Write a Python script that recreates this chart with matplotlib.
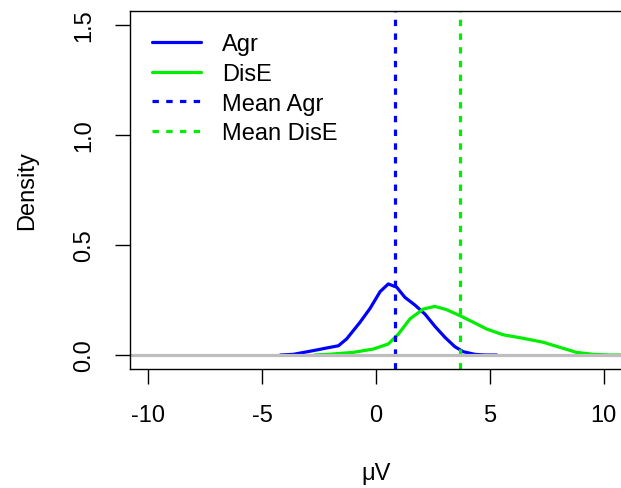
import matplotlib
matplotlib.use("Agg")
import matplotlib.pyplot as plt

plt.rcParams["font.family"] = ["Liberation Sans", "DejaVu Sans"]

# density estimates
agr_x = [-4.2, -3.63, -2.75, -2.16, -1.65, -1.29, -0.70, -0.26, 0.18, 0.54, 0.91,
         1.27, 1.71, 2.15, 2.59, 3.03, 3.46, 3.83, 4.34, 4.78, 5.3]
agr_y = [0.0, 0.003, 0.020, 0.032, 0.042, 0.073, 0.149, 0.212, 0.288, 0.323, 0.308,
         0.262, 0.227, 0.186, 0.130, 0.080, 0.038, 0.015, 0.003, 0.0, 0.0]
dise_x = [-2.7, -2.09, -1.0, -0.12, 0.54, 0.98, 1.49, 2.08, 2.59, 3.10, 3.68, 4.27,
          4.86, 5.58, 6.46, 7.34, 8.07, 8.80, 9.53, 10.26, 10.9]
dise_y = [0.0, 0.003, 0.012, 0.027, 0.050, 0.095, 0.164, 0.209, 0.221, 0.206, 0.179,
          0.149, 0.118, 0.092, 0.076, 0.058, 0.035, 0.012, 0.003, 0.0, 0.0]
mean_agr = 0.83
mean_dise = 3.68

xticks = [-10, -5, 0, 5, 10]
yticks = [0.0, 0.5, 1.0, 1.5]

blue = "#0000FF"
green = "#00EE00"
dots = (0, (2.0, 2.3))

fig = plt.figure(figsize=(6.21, 4.89), dpi=100)
ax = fig.add_axes([130 / 621, 1 - 370 / 489, 492 / 621, 358 / 489])

ax.plot(agr_x, agr_y, color=blue, lw=2.3, label="Agr", solid_capstyle="round")
ax.plot(dise_x, dise_y, color=green, lw=2.3, label="DisE", solid_capstyle="round")
ax.axvline(mean_agr, color=blue, lw=2.3, ls=dots, label="Mean Agr")
ax.axvline(mean_dise, color=green, lw=2.3, ls=dots, label="Mean DisE")
ax.axhline(0, color="#BEBEBE", lw=2.3)

ax.set_xlim(-10.8, 10.8)
ax.set_ylim(-0.0636, 1.5636)
ax.set_xticks(xticks)
ax.set_xticklabels(["-10", "-5", "0", "5", "10"])
ax.set_yticks(yticks)
ax.set_yticklabels(["0.0", "0.5", "1.0", "1.5"], rotation=90, va="center")
ax.tick_params(direction="out", length=11, width=1, labelsize=17)
ax.tick_params(axis="x", pad=14)
ax.tick_params(axis="y", pad=14)
for s in ax.spines.values():
    s.set_linewidth(1)

ax.set_xlabel("μV", fontsize=17, labelpad=26)
ax.set_ylabel("Density", fontsize=17, labelpad=25)

ax.legend(loc="upper left", frameon=False, fontsize=17, handlelength=2.05,
          handletextpad=0.9, labelspacing=0.32, borderaxespad=0.5,
          borderpad=0.45, bbox_to_anchor=(0.0, 1.0))

fig.savefig("out.png", dpi=100)
